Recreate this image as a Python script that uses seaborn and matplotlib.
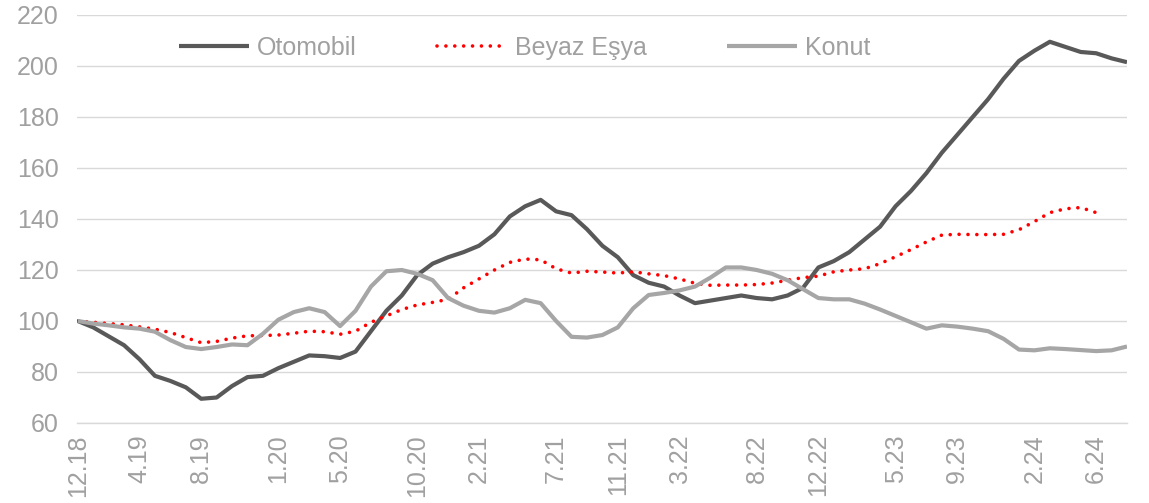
import numpy as np
import pandas as pd
import matplotlib
matplotlib.use("Agg")
import matplotlib.pyplot as plt
import seaborn as sns
from matplotlib.lines import Line2D

# ---- data (monthly index, 12.2018 = 100) ----
otomobil = [100, 97.5, 94, 90.5, 85, 78.5, 76.5, 74, 69.5, 70,
            74.5, 78, 78.5, 81.5, 84, 86.5, 86.2, 85.5, 88, 96,
            104, 110, 118, 122.5, 125, 127, 129.5, 134, 141, 145,
            147.5, 143, 141.5, 136, 129.5, 125, 118, 115, 113.5, 110,
            107, 108, 109, 110, 109, 108.5, 110, 113, 121, 123.5,
            127, 132, 137, 145, 151, 158, 166, 173, 180, 187,
            195, 202, 206, 209.5, 207.5, 205.5, 205, 203, 201.5]
beyaz_esya = [100, 99.5, 99, 98.5, 97.7, 96.8, 95.5, 93.5, 91.5, 92,
              93.3, 94.2, 94.3, 94.5, 95.2, 96, 95.8, 94.8, 96, 99.5,
              102, 104.5, 106.3, 107.3, 108.5, 113, 116.5, 120, 123, 124.3,
              124, 120.5, 118.8, 119.5, 119.2, 118.8, 119.3, 118.5, 117.8, 116.5,
              114.8, 114, 114.1, 114.1, 114.3, 114.9, 116, 117, 117.6, 119.3,
              120, 120.5, 122.5, 125.2, 128, 131, 133.7, 134, 133.9, 133.9,
              134, 135.8, 139, 142.5, 144, 144.5, 142.5]
konut = [100, 99, 98.3, 97.5, 97, 95.8, 92.5, 89.8, 89, 89.8,
         90.8, 90.5, 95, 100.5, 103.5, 105, 103.5, 98, 104, 113.5,
         119.5, 120, 118.5, 116, 109, 106, 104, 103.3, 105, 108.3,
         107, 100, 93.8, 93.5, 94.5, 97.5, 105, 110.2, 111, 112,
         113.5, 117, 121, 121, 120, 118.5, 116, 112.5, 109, 108.5,
         108.5, 106.8, 104.5, 102, 99.5, 97, 98.3, 97.8, 97, 96,
         93, 88.8, 88.5, 89.3, 89, 88.6, 88.2, 88.5, 90]

series_names = ["Otomobil", "Beyaz Eşya", "Konut"]
tick_months = [0, 4, 8, 13, 17, 22, 26, 31, 35, 39, 44, 48, 53, 57, 62, 66]
tick_labels = ["12.18", "4.19", "8.19", "1.20", "5.20", "10.20", "2.21", "7.21",
               "11.21", "3.22", "8.22", "12.22", "5.23", "9.23", "2.24", "6.24"]
y_ticks = [60, 80, 100, 120, 140, 160, 180, 200, 220]

frames = []
for name, vals in zip(series_names, [otomobil, beyaz_esya, konut]):
    frames.append(pd.DataFrame({"month": np.arange(len(vals)), "value": vals, "series": name}))
df = pd.concat(frames, ignore_index=True)

sns.set_style("white")
plt.rcParams["font.family"] = ["Liberation Sans", "DejaVu Sans"]

FS = 18
TXT = "#a0a0a0"

fig = plt.figure(figsize=(11.49, 5.03), dpi=100)
ax = fig.add_axes([77 / 1149, 1 - 423 / 503, (1127 - 77) / 1149, (423 - 15) / 503])

palette = {"Otomobil": "#595959", "Beyaz Eşya": "#ff0000", "Konut": "#a6a6a6"}
sns.lineplot(data=df, x="month", y="value", hue="series", palette=palette,
             hue_order=series_names, ax=ax, legend=False, sort=False)

DOTS = (0, (0.01, 2.45))
lines = ax.get_lines()
for ln, name in zip(lines, series_names):
    if name == "Beyaz Eşya":
        ln.set_linewidth(2.6)
        ln.set_linestyle(DOTS)
        ln.set_dash_capstyle("round")
    else:
        ln.set_linewidth(3.0)
        ln.set_solid_capstyle("butt")

ax.set_xlim(-0.05, 68.0)
ax.set_ylim(60, 220)
ax.set_yticks(y_ticks)
ax.set_xticks(tick_months)
ax.set_xticklabels(tick_labels, rotation=90)
ax.set_xlabel("")
ax.set_ylabel("")

ax.yaxis.grid(True, color="#d9d9d9", linewidth=1.0)
ax.set_axisbelow(True)
for s in ["left", "right", "top"]:
    ax.spines[s].set_visible(False)
ax.spines["bottom"].set_color("#d9d9d9")
ax.spines["bottom"].set_linewidth(1.0)

ax.tick_params(axis="y", length=0, pad=13, labelsize=FS, labelcolor=TXT)
ax.tick_params(axis="x", length=5, width=1.0, color="#d9d9d9", pad=3,
               labelsize=FS, labelcolor=TXT)

handles = []
for ln, name in zip(lines[:3], series_names):
    h = Line2D([], [], color=ln.get_color(), linewidth=ln.get_linewidth(),
               dash_capstyle="round", solid_capstyle="butt")
    if name == "Beyaz Eşya":
        h.set_linestyle(DOTS)
    handles.append(h)
leg = fig.legend(handles, series_names, loc="center left",
                 bbox_to_anchor=(179 / 1149, 1 - 48 / 503), ncol=3, frameon=False,
                 fontsize=FS, handlelength=2.8, handletextpad=0.32,
                 columnspacing=3.2, borderpad=0, borderaxespad=0)
for t in leg.get_texts():
    t.set_color(TXT)

fig.savefig("out.png", dpi=100)
